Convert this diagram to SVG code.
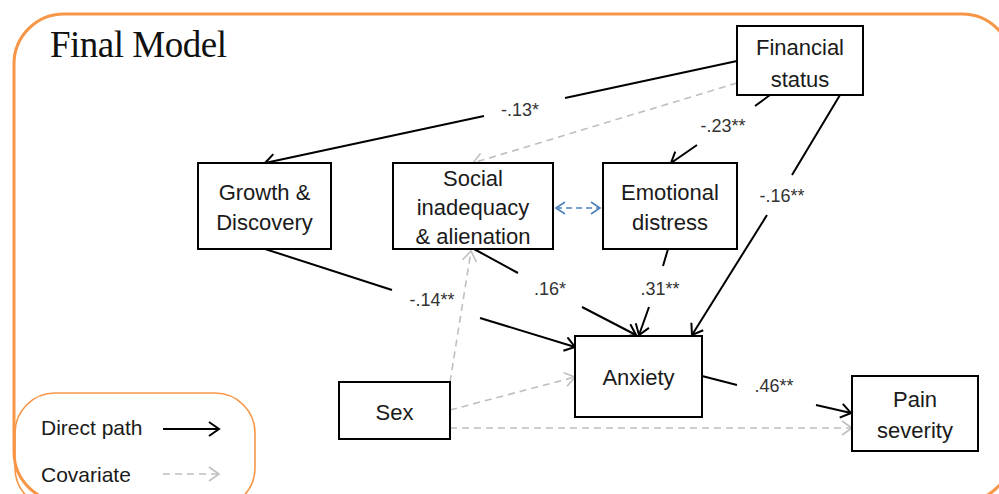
<svg xmlns="http://www.w3.org/2000/svg" width="999" height="494" viewBox="0 0 999 494">
<style>
.frame{fill:none;stroke:#F79646;stroke-width:3}
.leg{fill:none;stroke:#F79646;stroke-width:1.6}
.box{fill:#fff;stroke:#000;stroke-width:2}
.t{font-family:"Liberation Sans",Arial,sans-serif;font-size:22px;fill:#1a1a1a;text-anchor:middle}
.lt{font-family:"Liberation Sans",Arial,sans-serif;font-size:21px;fill:#1a1a1a}
.el{font-family:"Liberation Sans",Arial,sans-serif;font-size:18px;fill:#333;text-anchor:middle}
.title{font-family:"Liberation Serif","Times New Roman",serif;font-size:37px;fill:#111;letter-spacing:-0.5px}
.d{fill:none;stroke:#000;stroke-width:2;marker-end:url(#ab)}
.c{fill:none;stroke:#BFBFBF;stroke-width:1.6;stroke-dasharray:7 5;marker-end:url(#ag)}
.b{fill:none;stroke:#4F81BD;stroke-width:1.6;stroke-dasharray:6 4;marker-end:url(#abl);marker-start:url(#abls)}
</style>
<defs>
<marker id="ab" markerUnits="userSpaceOnUse" markerWidth="14" markerHeight="16" refX="11" refY="8" orient="auto"><path d="M1,1 L11,8 L1,15" fill="none" stroke="#000" stroke-width="2"/></marker>
<marker id="ag" markerUnits="userSpaceOnUse" markerWidth="14" markerHeight="16" refX="11" refY="8" orient="auto"><path d="M1,1 L11,8 L1,15" fill="none" stroke="#BFBFBF" stroke-width="1.6"/></marker>
<marker id="abl" markerUnits="userSpaceOnUse" markerWidth="14" markerHeight="16" refX="11" refY="8" orient="auto"><path d="M2,2 L11,8 L2,14" fill="none" stroke="#4F81BD" stroke-width="1.6"/></marker>
<marker id="abls" markerUnits="userSpaceOnUse" markerWidth="14" markerHeight="16" refX="3" refY="8" orient="auto"><path d="M12,2 L3,8 L12,14" fill="none" stroke="#4F81BD" stroke-width="1.6"/></marker>
</defs>
<rect width="999" height="494" fill="#fff"/>
<rect class="frame" x="14" y="14" width="998" height="488" rx="50"/>
<text class="title" x="50" y="57">Final Model</text>

<g id="connectors">
<path class="d" d="M737,61 L565,98 M484,116 L265,163"/>
<path class="c" d="M737,83 L473,163"/>
<path class="d" d="M770,95 L755,106 M697,145 L671,163"/>
<path class="d" d="M840,95 L792,175 M767,215 L692,335"/>
<path class="b" d="M556,208 L600,208"/>
<path class="d" d="M668,249 L663,266 M649,307 L639,335"/>
<path class="d" d="M474,249 L518,273 M582,307 L636,335"/>
<path class="d" d="M265,249 L392,290 M480,318 L575,347"/>
<path class="c" d="M450,382 L471,251"/>
<path class="c" d="M450,410 L575,377"/>
<path class="c" d="M450,428 L852,428"/>
<path class="d" d="M702,376 L737,385 M816,405 L851,413"/>
</g>
<g id="edge-labels">
<text class="el" x="520" y="116">-.13*</text>
<text class="el" x="723" y="132">-.23**</text>
<text class="el" x="782" y="202">-.16**</text>
<text class="el" x="660" y="295">.31**</text>
<text class="el" x="550" y="295">.16*</text>
<text class="el" x="432" y="306">-.14**</text>
<text class="el" x="774" y="392">.46**</text>
</g>

<g id="financial-status"><rect class="box" x="737" y="26" width="126" height="69"/><text class="t" x="800" y="55">Financial</text><text class="t" x="800" y="87">status</text></g>
<g id="growth-discovery"><rect class="box" x="198" y="163" width="133" height="86"/><text class="t" x="264.5" y="200">Growth &amp;</text><text class="t" x="264.5" y="230">Discovery</text></g>
<g id="social-inadequacy"><rect class="box" x="393" y="163" width="160" height="86"/><text class="t" x="473" y="186">Social</text><text class="t" x="473" y="215">inadequacy</text><text class="t" x="473" y="244">&amp; alienation</text></g>
<g id="emotional-distress"><rect class="box" x="603" y="163" width="134" height="86"/><text class="t" x="670" y="200">Emotional</text><text class="t" x="670" y="230">distress</text></g>
<g id="anxiety"><rect class="box" x="575" y="336" width="127" height="81"/><text class="t" x="638.5" y="385">Anxiety</text></g>
<g id="pain-severity"><rect class="box" x="852" y="376" width="126" height="75"/><text class="t" x="915" y="407">Pain</text><text class="t" x="915" y="438">severity</text></g>
<g id="sex"><rect class="box" x="339" y="382" width="111" height="57"/><text class="t" x="394.5" y="420">Sex</text></g>

<g id="legend">
<rect class="leg" x="15" y="393" width="240" height="115" rx="40"/>
<text class="lt" x="41" y="435">Direct path</text>
<path class="d" d="M163,429 L219,429"/>
<text class="lt" x="41" y="482">Covariate</text>
<path class="c" d="M163,474 L219,474"/>
</g>
</svg>
